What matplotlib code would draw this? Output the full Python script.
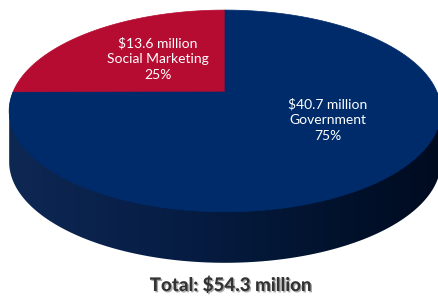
import numpy as np
import matplotlib.pyplot as plt
from matplotlib.patches import Polygon, PathPatch
from matplotlib.path import Path
from matplotlib.colors import LinearSegmentedColormap
import matplotlib.patheffects as pe

# data
labels = ['Social Marketing', 'Government']
amounts = [13.6, 40.7]
percents = [25, 75]
colors = ['#b70c32', '#002b6b']
total_text = 'Total: $54.3 million'

# perspective pie geometry (pixels)
cx, cy = 225, 92
D, S, C = 4.73, 0.888, 0.459
F = 212 * D
depth_px = 51


def project(theta, r=1.0):
    x3 = r * np.cos(theta)
    y3 = r * np.sin(theta)
    dz = D + y3 * S
    return cx + F * x3 / dz, cy - F * y3 * C / dz


fig = plt.figure(figsize=(4.38, 3.0), dpi=100)
ax = fig.add_axes([0, 0, 1, 1])
ax.set_xlim(0, 438)
ax.set_ylim(300, 0)
ax.axis('off')

# side of the disc
t = np.linspace(0, 2 * np.pi, 1441)
X, Y = project(t)
iL, iR = np.argmin(X), np.argmax(X)
tL, tR = t[iL], t[iR]
front = (t > tL) & (t < tR)
side_pts = np.column_stack([X, Y + np.where(front, depth_px, 0)])
side_patch = PathPatch(Path(side_pts, closed=True), facecolor='none', edgecolor='none')
ax.add_patch(side_patch)
side_cmap = LinearSegmentedColormap.from_list(
    'side', [(0.0, '#0e2854'), (0.35, '#071e46'), (0.7, '#021430'), (1.0, '#000b20')])
grad = np.linspace(0, 1, 256).reshape(1, -1)
im = ax.imshow(grad, cmap=side_cmap, aspect='auto',
               extent=(X.min(), X.max(), Y.max() + depth_px, cy), zorder=1)
im.set_clip_path(side_patch)

# top face wedges
fracs = np.array(amounts) / sum(amounts)
start = np.pi / 2
for frac, col in zip(fracs, colors):
    end = start + 2 * np.pi * frac
    tt = np.linspace(start, end, 400)
    wx, wy = project(tt)
    pts = np.vstack([[cx, cy], np.column_stack([wx, wy])])
    ax.add_patch(Polygon(pts, closed=True, facecolor=col, edgecolor=col, lw=0.5, zorder=2))
    start = end

# labels
label_pos = [(158, 59), (328, 120)]
for lab, amt, pct, (lx, ly) in zip(labels, amounts, percents, label_pos):
    ax.text(lx, ly, f'${amt} million\n{lab}\n{pct}%', color='white', fontsize=10,
            family='Lato', ha='center', va='center', linespacing=1.35, zorder=3)

ax.text(231, 285, total_text, color='#333333', fontsize=13.5, family='Lato', weight='black',
        ha='center', va='center',
        path_effects=[pe.withSimplePatchShadow(offset=(1, -1), alpha=0.35)])

fig.savefig('out.png', dpi=100)
